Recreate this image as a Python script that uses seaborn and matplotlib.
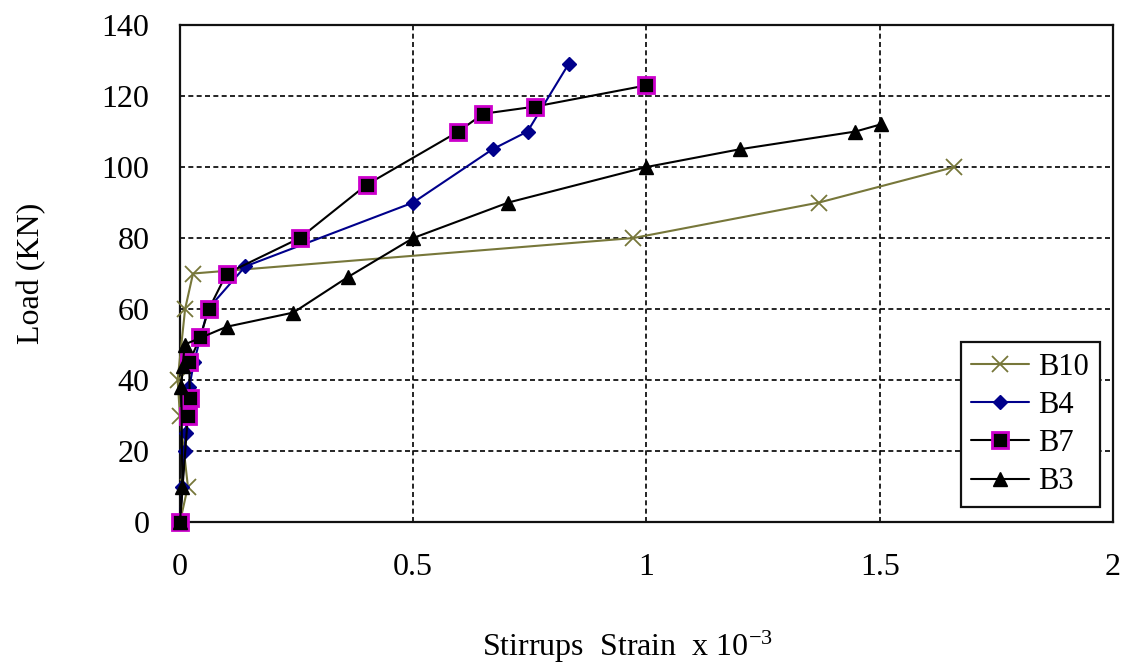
import seaborn as sns
import matplotlib.pyplot as plt
import pandas as pd
import numpy as np

# Values (strain x 10^-3, load in kN)
b10_strain = [0, 0.017, 0.0, -0.005, 0.011, 0.028, 0.972, 1.37, 1.66]
b10_load = [0, 10, 30, 40, 60, 70, 80, 90, 100]

b4_strain = [0, 0.005, 0.01, 0.012, 0.02, 0.03, 0.06, 0.14, 0.5, 0.67, 0.745, 0.833]
b4_load = [0, 10, 20, 25, 38, 45, 60, 72, 90, 105, 110, 129]

b7_strain = [0, 0.017, 0.021, 0.02, 0.043, 0.062, 0.10, 0.257, 0.40, 0.597, 0.65, 0.76, 1.0]
b7_load = [0, 30, 35, 45, 52, 60, 70, 80, 95, 110, 115, 117, 123]

b3_strain = [0, 0.005, 0.003, 0.006, 0.01, 0.10, 0.243, 0.36, 0.5, 0.704, 1.0, 1.2, 1.448, 1.502]
b3_load = [0, 10, 38, 44, 50, 55, 59, 69, 80, 90, 100, 105, 110, 112]

x_ticks = [0, 0.5, 1, 1.5, 2]
x_tick_labels = ["0", "0.5", "1", "1.5", "2"]
y_ticks = [0, 20, 40, 60, 80, 100, 120, 140]

sns.set_style("white")
plt.rcParams["font.family"] = ["Liberation Serif", "DejaVu Serif"]
plt.rcParams["mathtext.fontset"] = "custom"
plt.rcParams["mathtext.rm"] = "Liberation Serif"
plt.rcParams["mathtext.it"] = "Liberation Serif:italic"
plt.rcParams["text.color"] = "black"
plt.rcParams["axes.labelcolor"] = "black"
plt.rcParams["xtick.color"] = "black"
plt.rcParams["ytick.color"] = "black"

fig = plt.figure(figsize=(11.29, 6.69), dpi=100)
ax = fig.add_axes([0.1594, 0.2197, 0.8264, 0.7429])

series = [
    ("B10", b10_strain, b10_load, dict(color="#77773a", marker="x", markersize=12,
                                       markeredgecolor="#77773a", markeredgewidth=1.3)),
    ("B4", b4_strain, b4_load, dict(color="#00008b", marker="D", markersize=7,
                                    markeredgecolor="#00008b", markeredgewidth=1)),
    ("B7", b7_strain, b7_load, dict(color="black", marker="s", markersize=11,
                                    markerfacecolor="black", markeredgecolor="#cc00cc",
                                    markeredgewidth=2)),
    ("B3", b3_strain, b3_load, dict(color="black", marker="^", markersize=10,
                                    markeredgecolor="black", markeredgewidth=1)),
]

for name, xs, ys, style in series:
    df = pd.DataFrame({"strain": xs, "load": ys})
    sns.lineplot(data=df, x="strain", y="load", sort=False, estimator=None,
                 linewidth=1.5, label=name, ax=ax, zorder=3, clip_on=False, **style)

ax.set_xlim(0, 2)
ax.set_ylim(0, 140)
ax.set_xticks(x_ticks)
ax.set_xticklabels(x_tick_labels)
ax.set_yticks(y_ticks)
ax.tick_params(axis="both", length=0, labelsize=23, pad=22)

ax.grid(True, linestyle=(0, (3, 2)), color="black", linewidth=1.2)
ax.set_axisbelow(True)
for sp in ax.spines.values():
    sp.set_visible(True)
    sp.set_color("#111111")
    sp.set_linewidth(1.6)

ax.set_xlabel("Stirrups  Strain  x 10$^{-3}$", fontsize=23, labelpad=36)
ax.xaxis.set_label_coords(0.48, -0.215)
ax.set_ylabel("Load (KN)", fontsize=23, labelpad=40)

leg = ax.legend(loc="upper right", bbox_to_anchor=(0.986, 0.362), borderaxespad=0,
                fontsize=22, frameon=True, fancybox=False, framealpha=1,
                edgecolor="#111111", handlelength=1.9, labelspacing=0.3,
                handletextpad=0.3, borderpad=0.35)
leg.get_frame().set_linewidth(1.6)
leg.set_zorder(5)

fig.savefig("out.png", dpi=100)
